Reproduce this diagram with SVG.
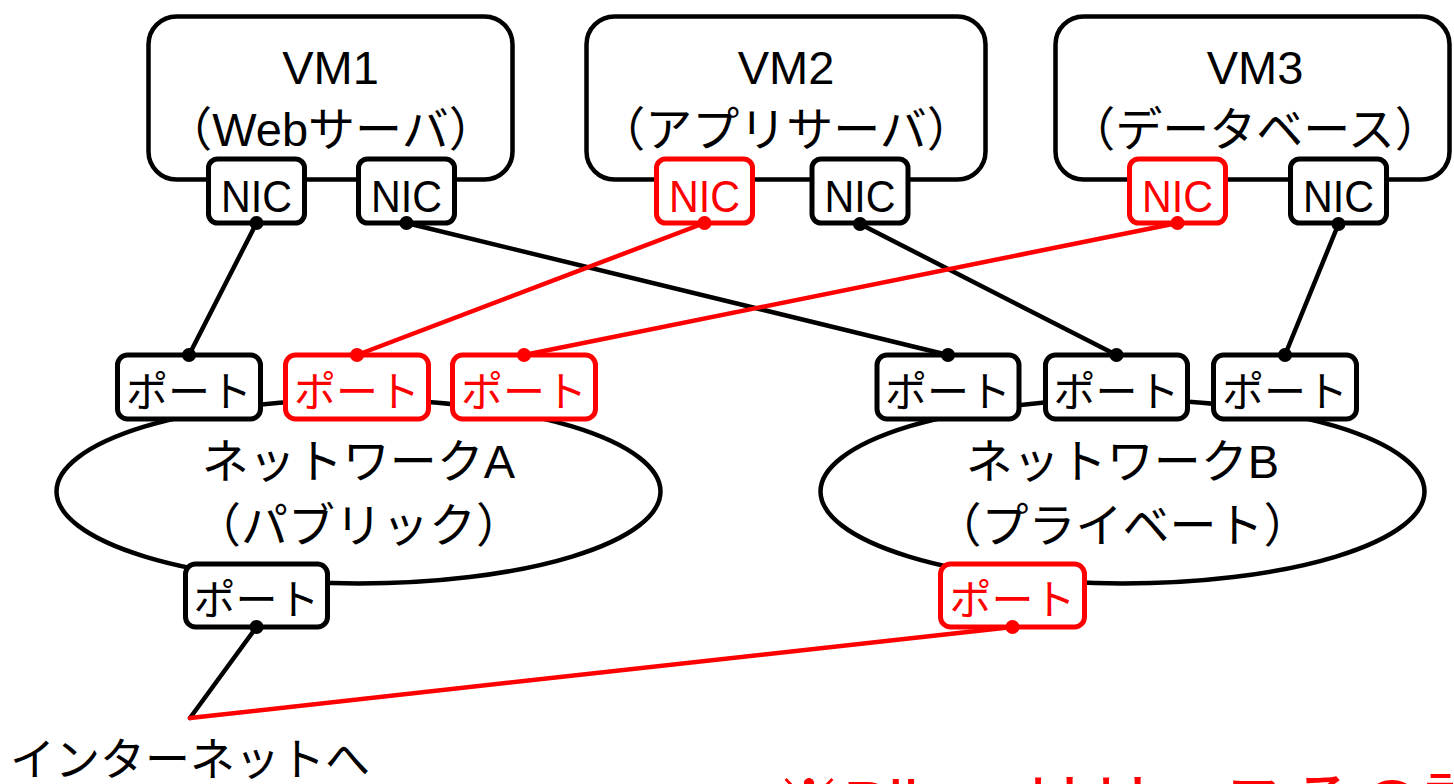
<svg xmlns="http://www.w3.org/2000/svg" width="1454" height="784" viewBox="0 0 1454 784">
<style>
  .bg { fill: #ffffff; }
  .vm { fill: #ffffff; stroke: #000; stroke-width: 4.5; }
  .net { fill: #ffffff; stroke: #000; stroke-width: 4.5; }
  .box { fill: #ffffff; stroke: #000; stroke-width: 5; }
  .box.rd { stroke: #ff0000; }
  .t { font-family: "Liberation Sans", "Noto Sans CJK JP", sans-serif; text-anchor: middle; fill: #000; }
  .t.tr { fill: #ff0000; }
  .lbl { font-size: 47px; }
  .nic { font-size: 45px; }
  .port { font-size: 42px; }
  .ln { stroke: #000; stroke-width: 4.5; fill: none; stroke-linecap: round; }
  .ln.r { stroke: #ff0000; }
  .dot { fill: #000; }
  .dot.r { fill: #ff0000; }
</style>
<rect class="bg" x="0" y="0" width="1454" height="784"/>

<g id="vm1">
  <rect class="vm" x="148.5" y="16.5" width="364" height="163" rx="28"/>
  <text class="t lbl" x="330.5" y="84">VM1</text>
  <text class="t lbl" x="330.5" y="146">（Webサーバ）</text>
</g>
<g id="vm2">
  <rect class="vm" x="586.5" y="16.5" width="399" height="163" rx="28"/>
  <text class="t lbl" x="786" y="84">VM2</text>
  <text class="t lbl" x="786" y="146">（アプリサーバ）</text>
</g>
<g id="vm3">
  <rect class="vm" x="1055.5" y="16.5" width="394" height="163" rx="28"/>
  <text class="t lbl" x="1255" y="84">VM3</text>
  <text class="t lbl" x="1255" y="146">（データベース）</text>
</g>

<g id="networkA">
  <ellipse class="net" cx="358.5" cy="491.5" rx="302" ry="92"/>
  <text class="t lbl" x="358.5" y="478">ネットワークA</text>
  <text class="t lbl" x="358.5" y="542">（パブリック）</text>
</g>
<g id="networkB">
  <ellipse class="net" cx="1122.5" cy="491.5" rx="302" ry="92"/>
  <text class="t lbl" x="1122.5" y="478">ネットワークB</text>
  <text class="t lbl" x="1122.5" y="542">（プライベート）</text>
</g>

<g id="vm1-nic1">
  <rect class="box" x="208.5" y="159" width="96" height="64" rx="9"/>
  <text class="t nic" x="256.5" y="212" textLength="71" lengthAdjust="spacingAndGlyphs">NIC</text>
</g>
<g id="vm1-nic2">
  <rect class="box" x="358.5" y="159" width="96" height="64" rx="9"/>
  <text class="t nic" x="406.5" y="212" textLength="71" lengthAdjust="spacingAndGlyphs">NIC</text>
</g>
<g id="vm2-nic1">
  <rect class="box rd" x="656.5" y="159" width="96" height="64" rx="9"/>
  <text class="t nic tr" x="704.5" y="212" textLength="71" lengthAdjust="spacingAndGlyphs">NIC</text>
</g>
<g id="vm2-nic2">
  <rect class="box" x="812" y="159" width="96" height="64" rx="9"/>
  <text class="t nic" x="860" y="212" textLength="71" lengthAdjust="spacingAndGlyphs">NIC</text>
</g>
<g id="vm3-nic1">
  <rect class="box rd" x="1129.5" y="159" width="96" height="64" rx="9"/>
  <text class="t nic tr" x="1177.5" y="212" textLength="71" lengthAdjust="spacingAndGlyphs">NIC</text>
</g>
<g id="vm3-nic2">
  <rect class="box" x="1290.5" y="159" width="96" height="64" rx="9"/>
  <text class="t nic" x="1338.5" y="212" textLength="71" lengthAdjust="spacingAndGlyphs">NIC</text>
</g>

<g id="portA1">
  <rect class="box" x="117.5" y="355" width="143" height="64" rx="10"/>
  <text class="t port" x="189" y="407">ポート</text>
</g>
<g id="portA2">
  <rect class="box rd" x="285.5" y="355" width="143" height="64" rx="10"/>
  <text class="t port tr" x="357" y="407">ポート</text>
</g>
<g id="portA3">
  <rect class="box rd" x="452.5" y="355" width="143" height="64" rx="10"/>
  <text class="t port tr" x="524" y="407">ポート</text>
</g>
<g id="portB1">
  <rect class="box" x="877" y="355" width="142" height="64" rx="10"/>
  <text class="t port" x="948" y="407">ポート</text>
</g>
<g id="portB2">
  <rect class="box" x="1045.5" y="355" width="142" height="64" rx="10"/>
  <text class="t port" x="1116.5" y="407">ポート</text>
</g>
<g id="portB3">
  <rect class="box" x="1213.5" y="355" width="143" height="64" rx="10"/>
  <text class="t port" x="1285" y="407">ポート</text>
</g>
<g id="portA-bottom">
  <rect class="box" x="185.5" y="564" width="142" height="63" rx="10"/>
  <text class="t port" x="256.5" y="615">ポート</text>
</g>
<g id="portB-bottom">
  <rect class="box rd" x="940.5" y="564" width="144" height="63" rx="10"/>
  <text class="t port tr" x="1012.5" y="615">ポート</text>
</g>

<g id="connectors">
  <line class="ln" x1="256.5" y1="223" x2="189" y2="355"/>
  <line class="ln" x1="406.5" y1="223" x2="948" y2="355"/>
  <line class="ln" x1="860" y1="224" x2="1116.5" y2="355"/>
  <line class="ln" x1="1338.5" y1="224" x2="1285" y2="355"/>
  <line class="ln" x1="256.5" y1="627" x2="190" y2="718"/>
  <line class="ln r" x1="704.5" y1="223" x2="357" y2="355"/>
  <line class="ln r" x1="1177.5" y1="223" x2="524" y2="355"/>
  <line class="ln r" x1="190" y1="718" x2="1012.5" y2="627"/>
  <circle class="dot" cx="256.5" cy="223" r="7"/>
  <circle class="dot" cx="406.5" cy="223" r="7"/>
  <circle class="dot r" cx="704.5" cy="223" r="7"/>
  <circle class="dot" cx="860" cy="224" r="7"/>
  <circle class="dot r" cx="1177.5" cy="223" r="7"/>
  <circle class="dot" cx="1338.5" cy="224" r="7"/>
  <circle class="dot" cx="189" cy="355" r="7"/>
  <circle class="dot r" cx="357" cy="355" r="7"/>
  <circle class="dot r" cx="524" cy="355" r="7"/>
  <circle class="dot" cx="948" cy="355" r="7"/>
  <circle class="dot" cx="1116.5" cy="355" r="7"/>
  <circle class="dot" cx="1285" cy="355" r="7"/>
  <circle class="dot" cx="256.5" cy="627" r="7"/>
  <circle class="dot r" cx="1012.5" cy="627" r="7"/>
</g>

<g id="internet">
  <text class="t" x="10" y="776" style="font-size:45px;text-anchor:start">インターネットへ</text>
</g>
<g id="note">
  <text class="t tr" x="775" y="829" style="font-size:68px;text-anchor:start">※<tspan>Pilot</tspan><tspan x="1020">リリースその設定</tspan></text>
</g>
</svg>
